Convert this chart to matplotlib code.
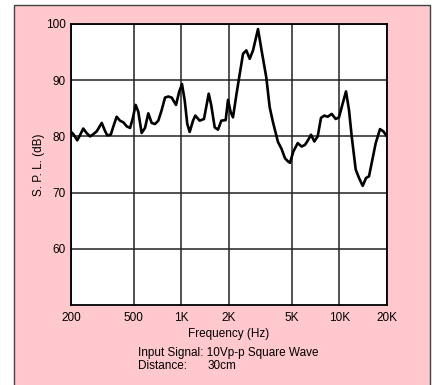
import matplotlib
matplotlib.use("Agg")
import matplotlib.pyplot as plt
from matplotlib.patches import Rectangle
from matplotlib.ticker import FixedLocator, FixedFormatter, NullLocator

plt.rcParams['font.family'] = ['Liberation Sans', 'DejaVu Sans']

# measured response, 200 Hz .. 20 kHz
freq_hz = [200, 207, 219, 228, 239, 251, 264, 277, 291, 313, 328, 339, 357,
           371, 389, 408, 429, 450, 473, 492, 513, 533, 560, 588, 617, 648,
           680, 714, 750, 787, 826, 868, 924, 969, 1008, 1049, 1089, 1128,
           1184, 1224, 1305, 1389, 1488, 1545, 1624, 1704, 1788, 1906, 1971,
           2050, 2120, 2224, 2338, 2454, 2575, 2704, 2838, 3052, 3202, 3444,
           3618, 3798, 4084, 4298, 4524, 4746, 4866, 5106, 5444, 5770, 6054,
           6352, 6608, 6934, 7286, 7644, 8022, 8428, 8934, 9470, 9938, 10428,
           11004, 11496, 11958, 12676, 13302, 14038, 14730, 15388, 16144,
           16964, 18060, 18952, 20000]
spl_db = [80.8, 80.4, 79.3, 80.2, 81.4, 80.6, 80.0, 80.4, 80.9, 82.4, 81.0,
          80.2, 80.3, 81.8, 83.5, 82.8, 82.5, 81.8, 81.5, 83.2, 85.6, 84.4,
          80.6, 81.5, 84.1, 82.4, 82.2, 82.8, 84.7, 86.9, 87.1, 86.9, 85.6,
          88.0, 89.3, 86.4, 82.2, 80.8, 82.8, 83.7, 82.8, 83.1, 87.6, 85.5,
          81.6, 81.2, 82.8, 82.9, 86.5, 84.3, 83.4, 87.3, 91.1, 94.7, 95.3,
          93.8, 95.3, 99.1, 95.6, 90.5, 85.2, 82.5, 79.0, 77.8, 76.1, 75.5,
          75.3, 77.3, 78.8, 78.2, 78.5, 79.4, 80.3, 79.1, 80.0, 83.3, 83.7,
          83.5, 84.0, 83.1, 83.4, 85.6, 88.0, 84.7, 80.0, 74.1, 72.6, 71.2,
          72.6, 72.9, 75.8, 78.8, 81.3, 80.9, 80.0]

x_ticks = [200, 500, 1000, 2000, 5000, 10000, 20000]
x_tick_labels = ['200', '500', '1K', '2K', '5K', '10K', '20K']
y_ticks = [60, 70, 80, 90, 100]

pink = '#ffc8cc'

fig = plt.figure(figsize=(4.32, 3.85), dpi=100)
fig.patch.set_facecolor('white')
fig.patches.append(Rectangle((13.5 / 432, -0.05), (429.5 - 13.5) / 432, 1.05 - 5.5 / 385,
                             transform=fig.transFigure, facecolor=pink,
                             edgecolor='#444444', linewidth=1.0, zorder=-5))

ax = fig.add_axes([71 / 432, 1 - 305 / 385, 316 / 432, 281 / 385])
ax.set_facecolor('white')
ax.set_xscale('log')
ax.set_xlim(200, 20000)
ax.set_ylim(50, 100)

ax.xaxis.set_major_locator(FixedLocator(x_ticks))
ax.xaxis.set_major_formatter(FixedFormatter(x_tick_labels))
ax.xaxis.set_minor_locator(NullLocator())
ax.set_yticks(y_ticks)
ax.tick_params(length=0, labelsize=8.5, colors='black')
ax.tick_params(axis='x', pad=5)
ax.tick_params(axis='y', pad=4)

ax.grid(True, color='#222222', linewidth=1.1)
for s in ax.spines.values():
    s.set_linewidth(1.3)
    s.set_color('black')

ax.plot(freq_hz, spl_db, color='black', linewidth=1.9, solid_joinstyle='round',
        solid_capstyle='round', zorder=3)

ax.set_xlabel('Frequency (Hz)', fontsize=8.5, labelpad=3)
ax.set_ylabel('S. P. L. (dB)', fontsize=8.5, labelpad=0.5)

fig.text(138 / 432, 1 - 353 / 385, 'Input Signal: 10Vp-p Square Wave',
         fontsize=8.5, va='center', ha='left')
fig.text(138 / 432, 1 - 366 / 385, 'Distance:', fontsize=8.5, va='center', ha='left')
fig.text(208 / 432, 1 - 366 / 385, '30cm', fontsize=8.5, va='center', ha='left')

fig.savefig('out.png', dpi=100, facecolor=fig.get_facecolor())
